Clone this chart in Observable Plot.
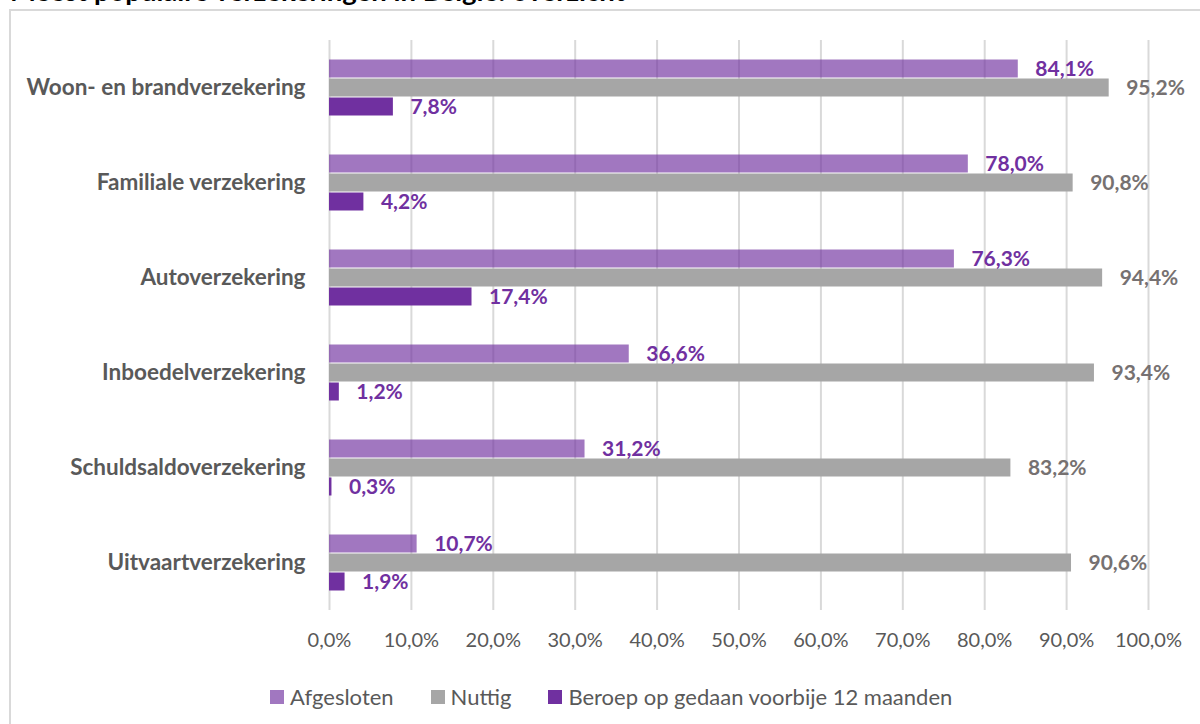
<!DOCTYPE html>
<html><head><meta charset="utf-8">
<script src="https://cdn.jsdelivr.net/npm/d3@7"></script>
<script src="https://cdn.jsdelivr.net/npm/@observablehq/plot@0.6"></script>
<style>
body{margin:0;background:#fff;width:1200px;height:724px;overflow:hidden;position:relative;font-family:Lato,"Liberation Sans",sans-serif;}
#title{position:absolute;left:10px;top:-23px;font-weight:bold;font-size:27.5px;line-height:28px;color:#000;white-space:nowrap;}
#box{position:absolute;left:9px;top:9px;width:1300px;height:800px;border:2px solid #d9d9d9;box-sizing:border-box;}
#chart{position:absolute;left:0;top:0;}
#legend{position:absolute;left:270px;top:683px;display:flex;align-items:center;font-size:22px;color:#595959;white-space:nowrap;}
#legend .item{display:flex;align-items:center;margin-right:37px;}
#legend .sw{width:14px;height:14px;margin-right:6px;display:inline-block;}
</style></head>
<body>
<div id="title">Meest populaire verzekeringen in België: overzicht</div>
<div id="box"></div>
<div id="chart"></div>
<div id="legend"></div>
<script>
const categories = ["Woon- en brandverzekering","Familiale verzekering","Autoverzekering","Inboedelverzekering","Schuldsaldoverzekering","Uitvaartverzekering"];
const series = ["Afgesloten","Nuttig","Beroep op gedaan voorbije 12 maanden"];
const afgesloten = [84.1,78.0,76.3,36.6,31.2,10.7];
const nuttig = [95.2,90.8,94.4,93.4,83.2,90.6];
const beroep = [7.8,4.2,17.4,1.2,0.3,1.9];
const xTicks = [0,10,20,30,40,50,60,70,80,90,100];
const seriesColors = ["#7030a0","#a6a6a6","#7030a0"];
const seriesOpacity = [0.66,1,1];
const labelColors = ["#7030a0","#767171","#7030a0"];

const values = [afgesloten, nuttig, beroep];
const rows = categories.flatMap((c,i)=>series.map((s,j)=>({category:c, series:s, value:values[j][i], j})));
const fmt = v => v.toFixed(1).replace(".", ",") + "%";

const marks = [Plot.ruleX(xTicks, {stroke:"#d9d9d9", strokeWidth:2})];
series.forEach((s,j)=>{
  const d = rows.filter(r=>r.j===j);
  marks.push(Plot.barX(d, {x:"value", y:"series", fy:"category", fill:seriesColors[j], fillOpacity:seriesOpacity[j], insetTop:0.5, insetBottom:0.5}));
});
series.forEach((s,j)=>{
  const d = rows.filter(r=>r.j===j);
  marks.push(Plot.text(d, {x:"value", y:"series", fy:"category", text:r=>fmt(r.value), dx:17, textAnchor:"start", fill:labelColors[j], fontWeight:"bold", fontSize:21}));
});
marks.push(Plot.axisFy({anchor:"left", tickSize:0, tickPadding:24, fontSize:22.5, fontWeight:"bold", color:"#595959", label:null}));
marks.push(Plot.axisX({ticks:xTicks, tickFormat:fmt, tickSize:0, tickPadding:22, fontSize:20, color:"#595959", label:null}));

const chart = Plot.plot({
  width:1200, height:660,
  marginLeft:329, marginRight:52, marginTop:40, marginBottom:50,
  style:{fontFamily:"Lato, 'Liberation Sans', sans-serif", background:"transparent", overflow:"visible"},
  x:{domain:[0,100]},
  fy:{domain:categories, padding:0, label:null},
  y:{domain:series, paddingInner:0, paddingOuter:0.936, axis:null},
  marks
});
document.getElementById("chart").appendChild(chart);

const lg = document.getElementById("legend");
series.forEach((s,j)=>{
  const it = document.createElement("div"); it.className="item";
  const sw = document.createElement("span"); sw.className="sw"; sw.style.background=seriesColors[j]; sw.style.opacity=seriesOpacity[j];
  const tx = document.createElement("span"); tx.textContent=s;
  it.appendChild(sw); it.appendChild(tx); lg.appendChild(it);
});
</script>
</body></html>
